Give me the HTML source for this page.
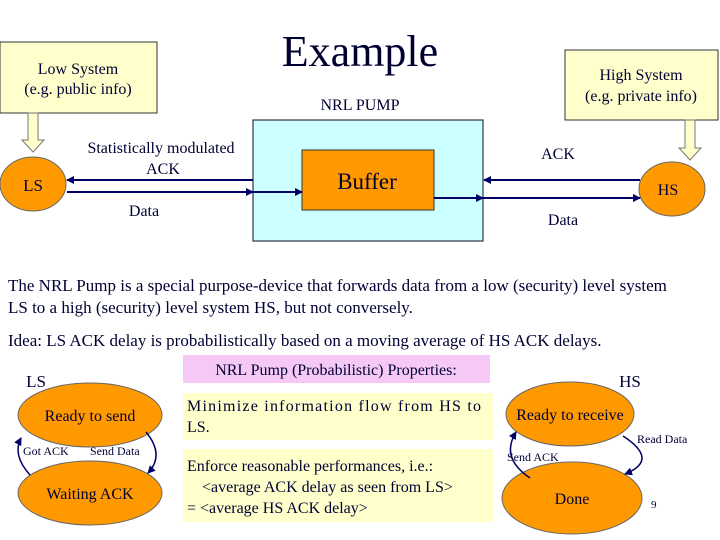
<!DOCTYPE html>
<html><head><meta charset="utf-8"><style>
body{margin:0;width:720px;height:540px;background:#fff;overflow:hidden}
svg text{font-family:"Liberation Serif",serif}
</style></head><body>
<svg width="720" height="540" xmlns="http://www.w3.org/2000/svg" style="position:absolute;left:0;top:0;font-family:'Liberation Serif',serif" fill="#000033">
<defs>
<marker id="a" markerWidth="8" markerHeight="8" refX="7" refY="4" orient="auto" markerUnits="userSpaceOnUse"><path d="M0,0 L8,4 L0,8 z" fill="#000066"/></marker>
</defs>
<rect x="0" y="42" width="157" height="71" fill="#ffffcc" stroke="#333" stroke-width="1"/>
<text x="78" y="74" font-size="16" text-anchor="middle">Low System</text>
<text x="78" y="94" font-size="16" text-anchor="middle">(e.g. public info)</text>
<text x="360" y="66" font-size="44" text-anchor="middle">Example</text>
<rect x="565" y="50" width="153" height="70" fill="#ffffcc" stroke="#333" stroke-width="1"/>
<text x="641" y="80" font-size="16" text-anchor="middle">High System</text>
<text x="641" y="101" font-size="16" text-anchor="middle">(e.g. private info)</text>
<text x="360" y="110" font-size="16" text-anchor="middle">NRL PUMP</text>
<path d="M28,113 h10 v27 h6 l-11,12 l-11,-12 h6 z" fill="#ffffcc" stroke="#777"/>
<path d="M685,120 h10 v28 h6 l-11,12 l-11,-12 h6 z" fill="#ffffcc" stroke="#777"/>
<rect x="253" y="120" width="230" height="121" fill="#ccffff" stroke="#334" stroke-width="1.2"/>
<rect x="302" y="150" width="132" height="60" fill="#ff9900" stroke="#333"/>
<text x="367" y="189" font-size="23" text-anchor="middle">Buffer</text>
<ellipse cx="33" cy="184" rx="33" ry="27" fill="#ff9900" stroke="#666"/>
<text x="33" y="191" font-size="17" text-anchor="middle">LS</text>
<ellipse cx="672" cy="189" rx="33" ry="27" fill="#ff9900" stroke="#666"/>
<text x="668" y="195" font-size="16" text-anchor="middle">HS</text>
<g stroke="#000066" stroke-width="2">
<line x1="253" y1="180" x2="67" y2="180" marker-end="url(#a)"/>
<line x1="67" y1="192" x2="253" y2="192" marker-end="url(#a)"/>
<line x1="253" y1="192" x2="302" y2="192" marker-end="url(#a)"/>
<line x1="640" y1="180" x2="484" y2="180" marker-end="url(#a)"/>
<line x1="434" y1="198" x2="483" y2="198" marker-end="url(#a)"/>
<line x1="483" y1="198" x2="640" y2="198" marker-end="url(#a)"/>
</g>
<text x="161" y="153" font-size="16" text-anchor="middle">Statistically modulated</text>
<text x="163" y="174" font-size="16" text-anchor="middle">ACK</text>
<text x="144" y="216" font-size="16" text-anchor="middle">Data</text>
<text x="558" y="159" font-size="16" text-anchor="middle">ACK</text>
<text x="563" y="225" font-size="16" text-anchor="middle">Data</text>
<text x="8" y="291" font-size="17">The NRL Pump is a special purpose-device that forwards data from a low (security) level system</text>
<text x="8" y="313" font-size="17">LS to a high (security) level system HS, but not conversely.</text>
<text x="8" y="346" font-size="17">Idea: LS ACK delay is probabilistically based on a moving average of HS ACK delays.</text>
<text x="36" y="387" font-size="17" text-anchor="middle">LS</text>
<text x="630" y="387" font-size="17" text-anchor="middle">HS</text>
<rect x="183" y="355" width="307" height="28" fill="#f5c8f5"/>
<text x="336" y="375" font-size="16" text-anchor="middle">NRL Pump (Probabilistic) Properties:</text>
<rect x="183" y="393" width="310" height="47" fill="#ffffcc"/>
<text x="187" y="411" font-size="16" textLength="294" lengthAdjust="spacing">Minimize information flow from HS to</text>
<text x="187" y="432" font-size="16">LS.</text>
<rect x="183" y="449" width="310" height="73" fill="#ffffcc"/>
<text x="187" y="471" font-size="16">Enforce reasonable performances, i.e.:</text>
<text x="202" y="492" font-size="16">&lt;average ACK delay as seen from LS&gt;</text>
<text x="187" y="513" font-size="16">= &lt;average HS ACK delay&gt;</text>
<ellipse cx="90" cy="415" rx="72" ry="32" fill="#ff9900" stroke="#666"/>
<text x="90" y="421" font-size="16" text-anchor="middle">Ready to send</text>
<ellipse cx="90" cy="493" rx="72" ry="32" fill="#ff9900" stroke="#666"/>
<text x="90" y="499" font-size="16" text-anchor="middle">Waiting ACK</text>
<ellipse cx="570" cy="414" rx="64" ry="32" fill="#ff9900" stroke="#666"/>
<text x="570" y="420" font-size="16" text-anchor="middle">Ready to receive</text>
<ellipse cx="572" cy="498" rx="70" ry="36" fill="#ff9900" stroke="#666"/>
<text x="572" y="504" font-size="16" text-anchor="middle">Done</text>
<g stroke="#000066" stroke-width="1.5" fill="none">
<path d="M30,475 Q12,455 21,438" marker-end="url(#a)"/>
<path d="M146,432 Q165,455 148,473" marker-end="url(#a)"/>
<path d="M530,478 Q500,458 516,432" marker-end="url(#a)"/>
<path d="M623,436 Q660,460 625,474" marker-end="url(#a)"/>
</g>
<text x="23" y="455" font-size="12">Got ACK</text>
<text x="90" y="455" font-size="12">Send Data</text>
<text x="507" y="461" font-size="12">Send ACK</text>
<text x="637" y="443" font-size="12">Read Data</text>
<text x="651" y="508" font-size="11">9</text>
</svg>
</body></html>
